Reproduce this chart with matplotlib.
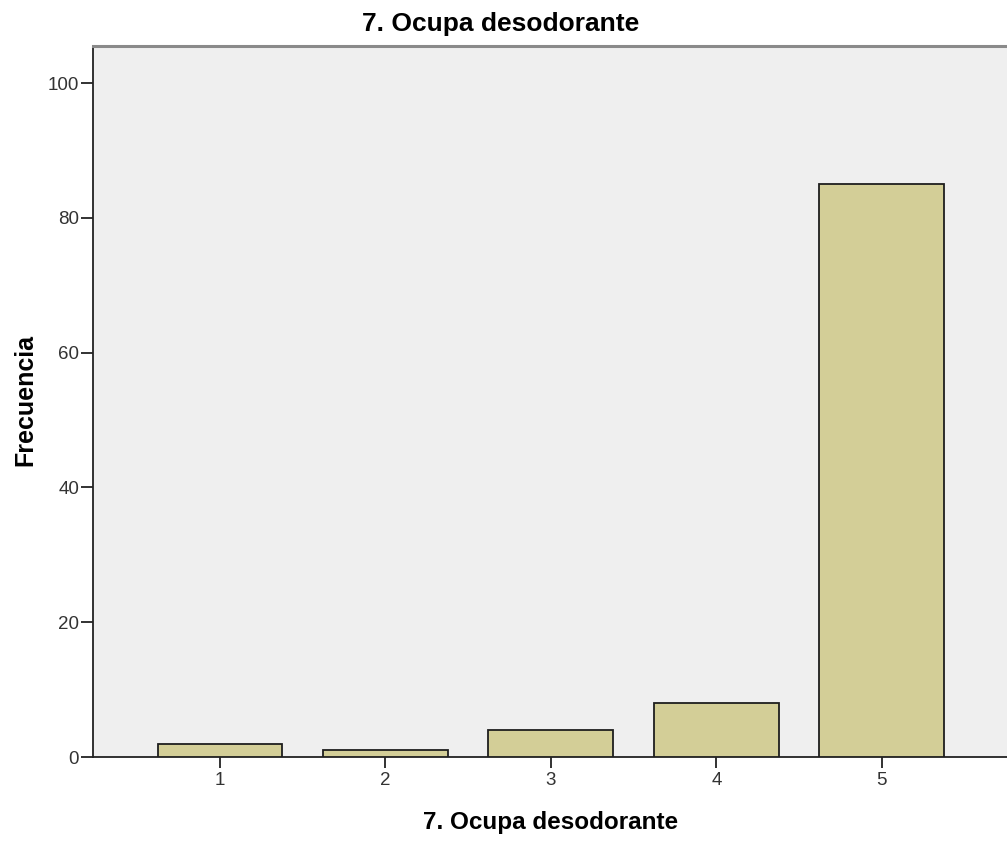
import numpy as np
import matplotlib.pyplot as plt

categorias = [1, 2, 3, 4, 5]
frecuencia = [2, 1, 4, 8, 85]
etiquetas = ['1', '2', '3', '4', '5']

plt.rcParams['font.family'] = ['Liberation Sans', 'DejaVu Sans']

fig = plt.figure(figsize=(10.07, 8.41), dpi=100)
W, H = 1007, 841
ax = fig.add_axes([93 / W, 84 / H, (1012 - 93) / W, 711 / H])
ax.set_facecolor('#efefef')

ax.bar(categorias, frecuencia, width=0.755, color='#d3ce97',
       edgecolor='#1e1e1e', linewidth=1.3, zorder=3)

ax.set_xlim(0.2326, 5.786)
ax.set_ylim(0, 105.5)
ax.set_xticks(categorias)
ax.set_xticklabels(etiquetas)
ax.set_yticks([0, 20, 40, 60, 80, 100])

for s in ['left', 'bottom']:
    ax.spines[s].set_color('#222222')
    ax.spines[s].set_linewidth(1.3)
ax.spines['top'].set_color('#8a8a8a')
ax.spines['top'].set_linewidth(2.2)
ax.spines['right'].set_visible(False)

ax.tick_params(axis='both', direction='out', length=9, width=1.3,
               color='#222222', labelsize=13.5, labelcolor='#333333', pad=1)
ax.tick_params(axis='x', length=8, pad=3)

# titulo y etiquetas en posiciones fijas (el eje se corta a la derecha)
fig.text(501 / W, 1 - 24 / H, '7. Ocupa desodorante', fontsize=19,
         fontweight='bold', ha='center', va='center')
fig.text(551 / W, 1 - 823 / H, '7. Ocupa desodorante', fontsize=17.5,
         fontweight='bold', ha='center', va='center')
fig.text(25 / W, 1 - 400 / H, 'Frecuencia', fontsize=18, fontweight='bold',
         rotation=90, ha='center', va='center')

fig.savefig('out.png', dpi=100)
